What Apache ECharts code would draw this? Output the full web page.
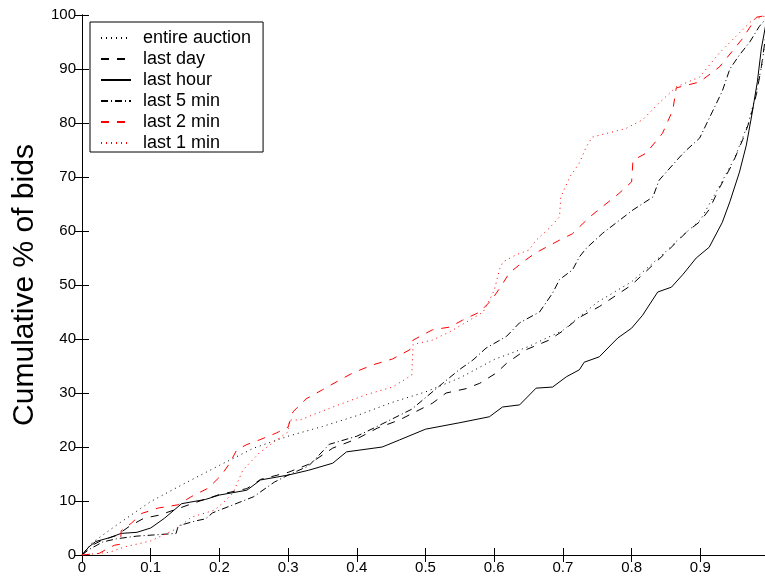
<!DOCTYPE html>
<html>
<head>
<meta charset="utf-8">
<script src="https://cdn.jsdelivr.net/npm/echarts@6/dist/echarts.min.js"></script>
<style>
html,body{margin:0;padding:0;background:#fff;}
#chart{width:765px;height:577px;}
</style>
</head>
<body>
<div id="chart"></div>
<script>
const seriesNames = ['entire auction','last day','last hour','last 5 min','last 2 min','last 1 min'];
const xTicks = [0,0.1,0.2,0.3,0.4,0.5,0.6,0.7,0.8,0.9,1];
const yTicks = [0,10,20,30,40,50,60,70,80,90,100];

const entireAuction = [[0,0],[0.014,2.2],[0.05,5.5],[0.1,9.9],[0.15,13.3],[0.2,16.6],[0.25,19.8],[0.3,22],[0.35,23.8],[0.4,25.8],[0.45,28.2],[0.5,30.2],[0.55,32.8],[0.6,36.2],[0.65,38.6],[0.7,41.6],[0.75,46.8],[0.8,50.6],[0.85,56.2],[0.87,58.7],[0.9,62],[0.93,68.8],[0.95,73.5],[0.97,80],[0.98,84.8],[0.99,91],[0.995,96],[1,100]];

const lastDay = [[0,0],[0.01,1.5],[0.03,2.8],[0.05,3.6],[0.07,5.4],[0.09,6.8],[0.113,7.4],[0.14,8.6],[0.16,9.5],[0.2,11.2],[0.24,12.3],[0.26,14],[0.3,15.3],[0.33,16.8],[0.365,19.8],[0.4,21.5],[0.43,23.5],[0.462,25],[0.482,26.3],[0.51,28.1],[0.53,30],[0.559,30.8],[0.579,31.8],[0.603,33.7],[0.618,35.5],[0.646,38],[0.68,39.8],[0.7,41.5],[0.724,44],[0.753,46],[0.8,50],[0.85,56],[0.88,59.8],[0.9,61.8],[0.913,64],[0.928,68],[0.947,72.5],[0.962,77],[0.972,80.5],[0.982,85.5],[0.989,90.5],[0.995,96],[1,100]];

const lastHour = [[0,0],[0.01,1.5],[0.02,2.5],[0.04,3.2],[0.057,4],[0.08,4.2],[0.1,5],[0.12,6.8],[0.145,9.5],[0.18,10.3],[0.2,11.1],[0.24,12],[0.26,13.9],[0.3,14.8],[0.33,15.7],[0.365,17],[0.385,19.1],[0.437,20],[0.462,21.3],[0.5,23.3],[0.55,24.5],[0.593,25.6],[0.612,27.4],[0.637,27.8],[0.661,30.9],[0.685,31.1],[0.705,33],[0.724,34.3],[0.731,35.7],[0.753,36.7],[0.78,40.2],[0.8,42],[0.816,44.4],[0.838,48.7],[0.858,49.6],[0.875,52],[0.894,55],[0.913,57],[0.932,61.6],[0.943,65.4],[0.957,70.9],[0.967,75.9],[0.975,81.5],[0.983,87.6],[0.989,93.9],[0.995,98],[1,100]];

const last5Min = [[0,0],[0.01,1],[0.03,2.4],[0.05,3],[0.08,3.5],[0.137,4],[0.14,5.4],[0.165,6.3],[0.18,6.7],[0.19,7.8],[0.22,9.3],[0.25,10.8],[0.28,13.5],[0.3,14.8],[0.33,16.5],[0.36,20.5],[0.4,22],[0.428,23.7],[0.48,27],[0.525,31.8],[0.549,34.3],[0.569,36.1],[0.588,38.3],[0.618,40.5],[0.637,43],[0.666,45],[0.685,48.5],[0.695,51],[0.714,52.8],[0.724,55.2],[0.734,56.8],[0.758,59.6],[0.802,63.9],[0.831,66.3],[0.84,69.4],[0.87,73.7],[0.88,75],[0.899,77.2],[0.918,82.2],[0.932,85.9],[0.943,90],[0.957,92.6],[0.972,95],[0.986,97.9],[1,100]];

const last2Min = [[0,0],[0.025,0.3],[0.036,1.1],[0.047,1.8],[0.056,2],[0.057,4.5],[0.072,5.9],[0.087,7.7],[0.111,8.7],[0.14,9.3],[0.159,10.8],[0.184,12.4],[0.203,14.8],[0.215,17],[0.225,19.4],[0.239,20.4],[0.258,21.3],[0.283,22.6],[0.3,23.7],[0.307,26.5],[0.326,28.9],[0.35,30.6],[0.375,32.4],[0.394,33.7],[0.423,35.2],[0.452,36.3],[0.477,38],[0.482,39.8],[0.51,41.7],[0.535,42.2],[0.554,43.5],[0.579,45],[0.596,47.2],[0.608,49.4],[0.622,52.2],[0.642,54.3],[0.661,56],[0.695,58.3],[0.714,59.5],[0.739,62.6],[0.782,67],[0.8,69.1],[0.802,73.1],[0.821,74.4],[0.845,78.1],[0.86,82.4],[0.865,86.5],[0.899,87.6],[0.928,90.4],[0.96,95.4],[0.982,99.6],[1,100]];

const last1Min = [[0,0],[0.04,0.5],[0.062,1.5],[0.1,2.6],[0.14,5],[0.159,7],[0.193,8.3],[0.21,10.2],[0.22,11.5],[0.234,15.7],[0.258,18.9],[0.283,21.3],[0.3,22.8],[0.302,25],[0.317,25],[0.365,27.4],[0.414,29.7],[0.452,31.1],[0.48,33.3],[0.482,39],[0.51,39.8],[0.535,41.3],[0.559,43.1],[0.584,45],[0.593,47.2],[0.6,49],[0.608,53],[0.613,54.3],[0.632,55.6],[0.651,56.5],[0.661,58.3],[0.68,60.5],[0.695,62.6],[0.697,66.3],[0.71,70],[0.724,72.6],[0.734,75.6],[0.743,77.4],[0.792,79],[0.816,80.6],[0.84,83.7],[0.865,86.7],[0.899,88.5],[0.928,93],[0.957,96.7],[0.976,99.1],[1,100]];

const seriesData = [entireAuction,lastDay,lastHour,last5Min,last2Min,last1Min];
const styles = [
  {color:'#000', type:[1,4]},
  {color:'#000', type:[8,8]},
  {color:'#000', type:'solid'},
  {color:'#000', type:[7,3,1,3]},
  {color:'#ff0000', type:[8,8]},
  {color:'#ff0000', type:[1,4]}
];
const FONT = "'Liberation Sans', Arial, Helvetica, sans-serif";

const chart = echarts.init(document.getElementById('chart'), null, {renderer:'canvas'});
const axisCommon = {
  axisLine:{show:true, lineStyle:{color:'#000', width:1}},
  axisTick:{show:true, inside:true, length:7, lineStyle:{color:'#000'}},
  splitLine:{show:false}
};
chart.setOption({
  animation:false,
  backgroundColor:'#fff',
  textStyle:{fontFamily:FONT},
  grid:{left:82, top:15, width:687, height:540, containLabel:false, outerBoundsMode:'none'},
  legend:{
    orient:'vertical', left:90, top:22,
    data:seriesNames,
    itemWidth:30, itemHeight:14, itemGap:3,
    padding:[7,12,0,10],
    backgroundColor:'#fff', borderColor:'#000', borderWidth:1, borderRadius:0,
    itemStyle:{opacity:0},
    textStyle:{fontSize:18, color:'#000', fontFamily:FONT, padding:[0,0,0,7]}
  },
  xAxis:[
    Object.assign({type:'value', min:0, max:1, interval:0.1, position:'bottom',
      axisLabel:{color:'#000', fontSize:15, fontFamily:FONT, margin:5,
        formatter:v=>String(xTicks.find(t=>Math.abs(t-v)<1e-9) ?? v)}}, axisCommon),
    Object.assign({type:'value', min:0, max:1, interval:0.1, position:'top',
      axisLabel:{show:false}}, axisCommon)
  ],
  yAxis:[
    Object.assign({type:'value', min:0, max:100, interval:10, position:'left',
      name:'Cumulative % of bids', nameLocation:'middle', nameGap:42,
      nameTextStyle:{fontSize:30, color:'#000', fontFamily:FONT},
      axisLabel:{color:'#000', fontSize:15, fontFamily:FONT, margin:6,
        formatter:v=>String(yTicks.find(t=>t===v) ?? v)}}, axisCommon),
    Object.assign({type:'value', min:0, max:100, interval:10, position:'right',
      axisLabel:{show:false}}, axisCommon)
  ],
  series: seriesNames.map((n,i)=>({
    name:n, type:'line', data:seriesData[i], xAxisIndex:0, yAxisIndex:0,
    symbol:'none', showSymbol:false, smooth:false,
    lineStyle:{color:styles[i].color, width:1, type:styles[i].type},
    itemStyle:{color:styles[i].color}
  }))
});
</script>
</body>
</html>
